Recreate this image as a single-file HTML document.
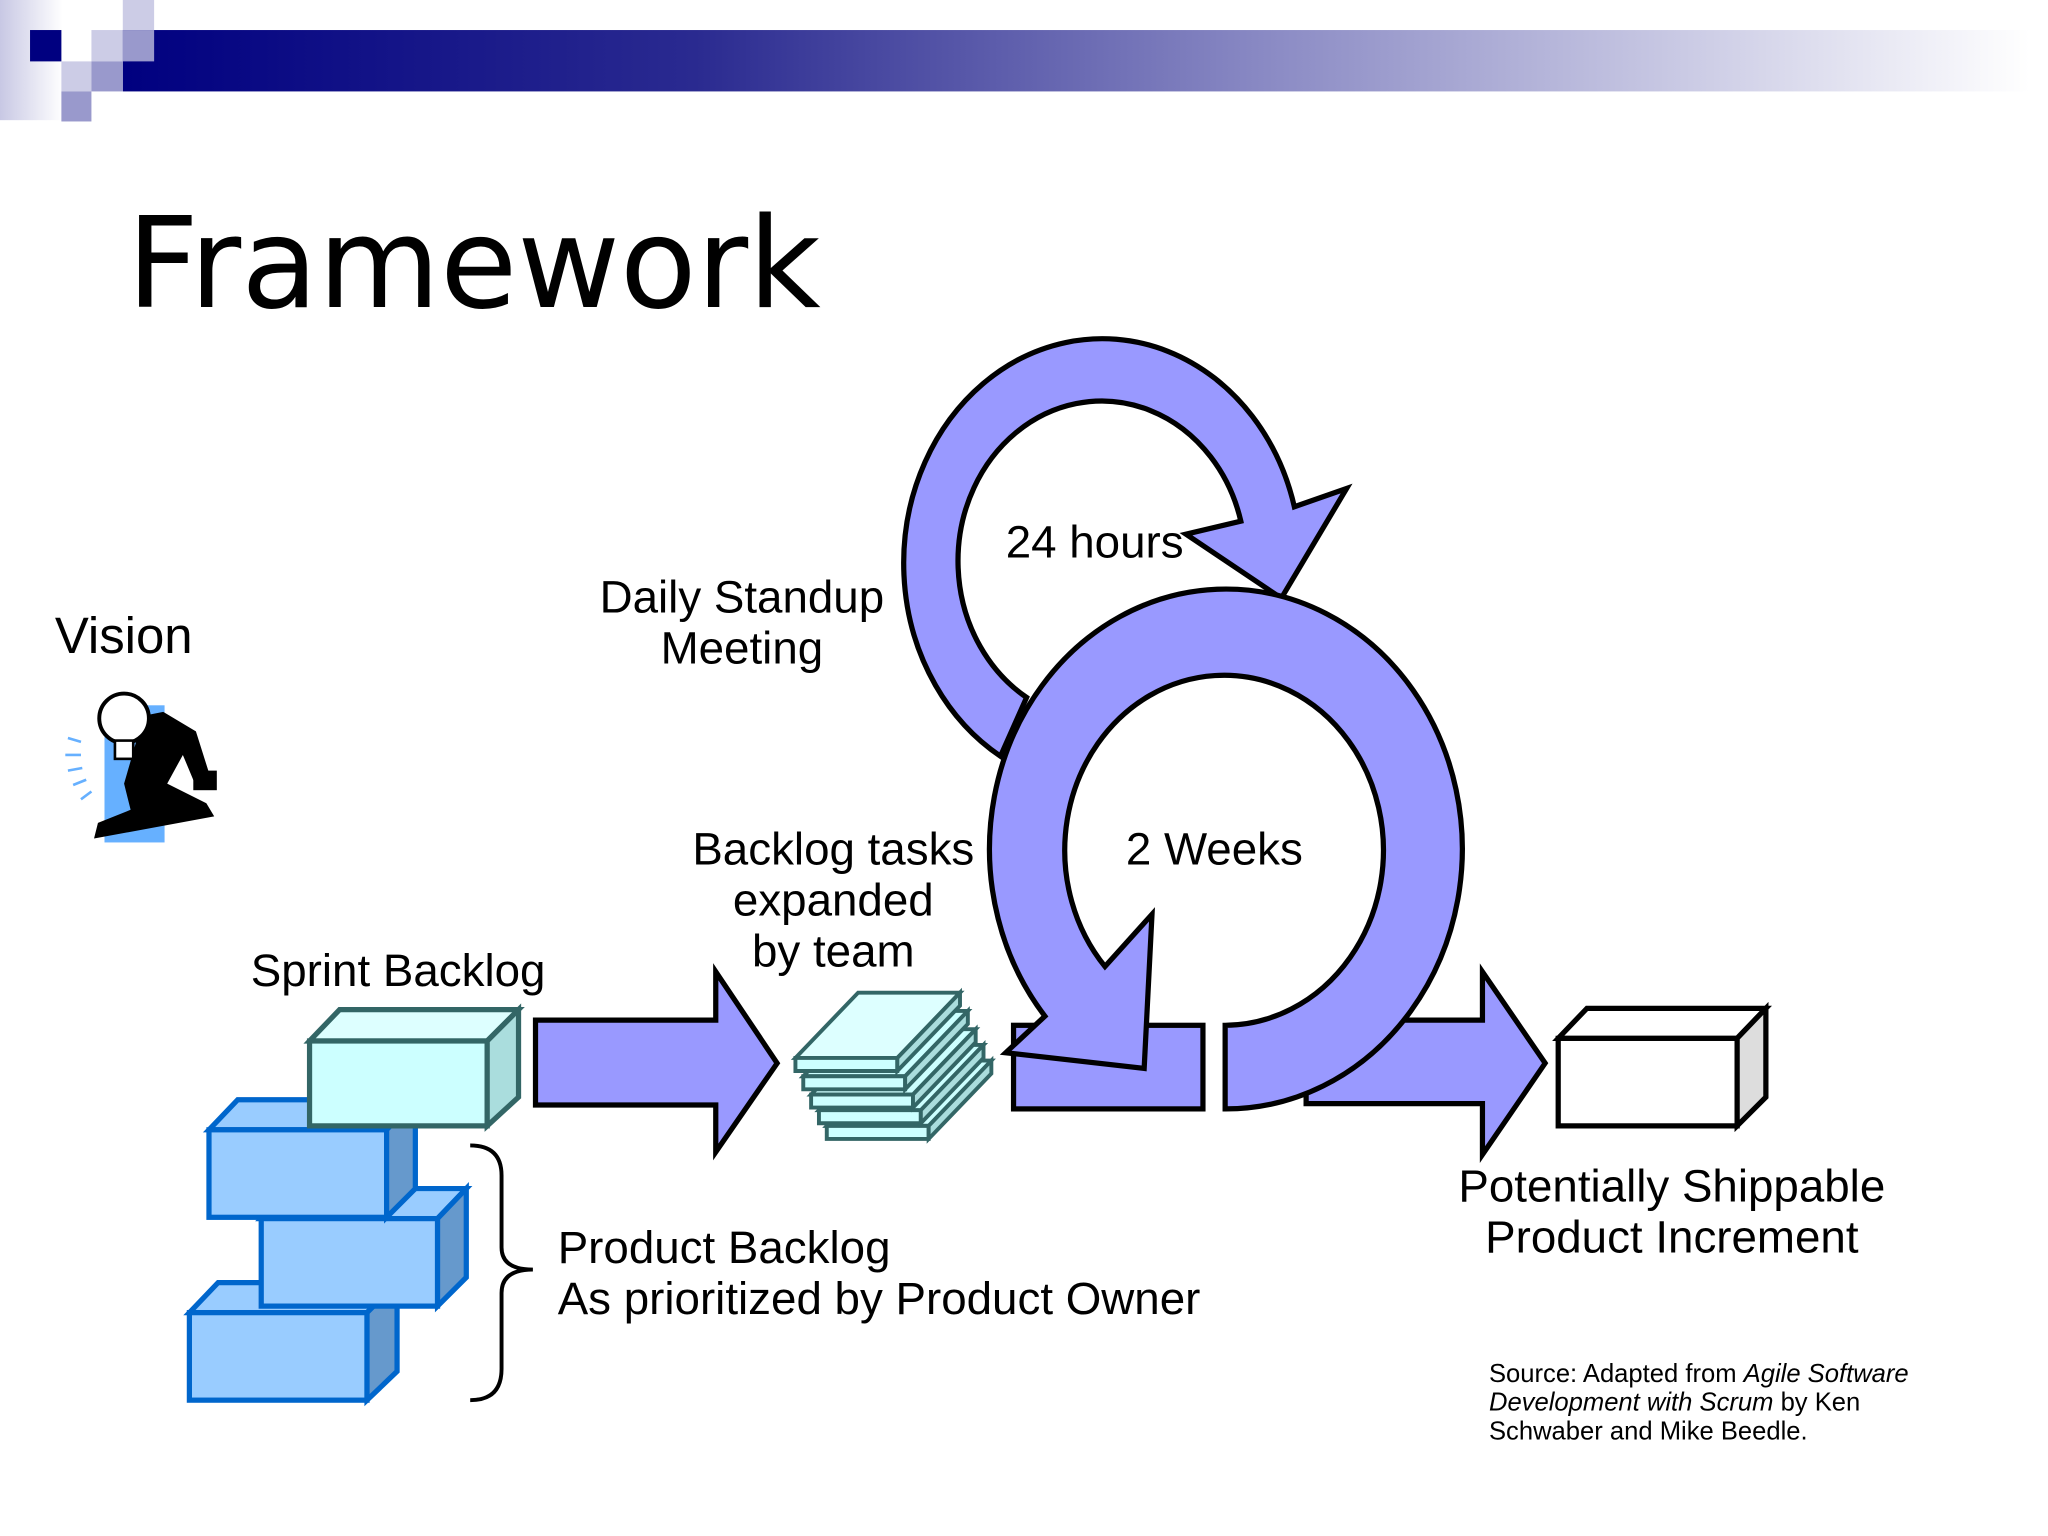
<!DOCTYPE html>
<html><head><meta charset="utf-8"><style>
html,body{margin:0;padding:0;background:#fff;}
svg{display:block;}
text{font-family:"Liberation Sans",Arial,sans-serif;fill:#000;}
</style></head><body>
<svg width="2048" height="1536" viewBox="0 0 1568 1176" preserveAspectRatio="none" xmlns="http://www.w3.org/2000/svg">
<defs>
<linearGradient id="bar" x1="0" x2="1" y1="0" y2="0">
<stop offset="0" stop-color="#000080"/>
<stop offset="0.3" stop-color="#2a2a90"/>
<stop offset="0.6" stop-color="#8a8ac4"/>
<stop offset="1" stop-color="#ffffff"/>
</linearGradient>
<linearGradient id="lstrip" x1="0" x2="1" y1="0" y2="0">
<stop offset="0" stop-color="#c8c8e4"/>
<stop offset="1" stop-color="#ffffff"/>
</linearGradient>
</defs>
<rect x="0" y="0" width="48" height="92" fill="url(#lstrip)"/>
<rect x="94" y="23" width="1460" height="47" fill="url(#bar)"/>
<rect x="23" y="23" width="24" height="24" fill="#000080"/>
<rect x="94" y="0" width="24" height="23" fill="#ccccE6"/>
<rect x="70" y="23" width="24" height="24" fill="#ccccE6"/>
<rect x="94" y="23" width="24" height="24" fill="#9999cc"/>
<rect x="47" y="47" width="23" height="23" fill="#ccccE6"/>
<rect x="70" y="47" width="24" height="23" fill="#9999cc"/>
<rect x="47" y="70" width="23" height="23" fill="#9999cc"/>

<text x="97" y="235" style="font-family:'DejaVu Sans',sans-serif;font-size:96px">Framework</text>

<text x="42" y="500" font-size="39">Vision</text>
<g>
<rect x="80" y="540" width="46" height="105" fill="#66b0ff"/>
<g stroke="#66b0ff" stroke-width="2">
<line x1="52" y1="565" x2="62" y2="568"/><line x1="50" y1="578" x2="62" y2="578"/>
<line x1="52" y1="590" x2="63" y2="588"/><line x1="56" y1="601" x2="66" y2="597"/>
<line x1="62" y1="612" x2="70" y2="606"/>
</g>
<path d="M110 548 L125 545 L150 560 L162 598 L150 602 L140 578 L128 600 L158 615 L164 625 L72 642 L75 630 L100 620 L95 600 Z" fill="#000"/>
<circle cx="95" cy="550" r="19" fill="#fff" stroke="#000" stroke-width="3"/>
<rect x="88" y="567" width="14" height="14" fill="#fff" stroke="#000" stroke-width="2"/>
<rect x="148" y="590" width="18" height="15" fill="#000"/>
</g>

<text x="568" y="469" font-size="35" text-anchor="middle">Daily Standup</text>
<text x="568" y="508" font-size="35" text-anchor="middle">Meeting</text>

<path d="M766,579 A152 172 0 1 1 991,388 L1031,374 L981,458 L908,409 L950,399 A110 122.5 0 1 0 786,534 Z" fill="#9999ff" stroke="#000" stroke-width="4"/>
<text x="770" y="427" font-size="35">24 hours</text>

<path d="M1000,781 L1135,781 L1135,744 L1183,814 L1135,884 L1135,845 L1000,845 Z" fill="#9999ff" stroke="#000" stroke-width="4"/>
<rect x="776" y="785" width="145" height="64" fill="#9999ff" stroke="#000" stroke-width="4"/>
<path d="M938,785 L938,849 A181 199 0 1 0 800,778 L770,806 L876,818 L882,700 L846,740 A122 134 0 1 1 938,785 Z" fill="#9999ff" stroke="#000" stroke-width="4"/>
<text x="862" y="662" font-size="35">2 Weeks</text>

<path d="M410,781 L548,781 L548,744 L595,814 L548,882 L548,846 L410,846 Z" fill="#9999ff" stroke="#000" stroke-width="4"/>

<text x="638" y="662" font-size="35" text-anchor="middle">Backlog tasks</text>
<text x="638" y="701" font-size="35" text-anchor="middle">expanded</text>
<text x="638" y="740" font-size="35" text-anchor="middle">by team</text>

<g stroke="#336666" stroke-width="3" fill="#ccffff">
<g transform="translate(24,52)"><path d="M609,810 L657,760 L735,760 L687,810 Z"/><path d="M609,810 L687,810 L687,820 L609,820 Z"/><path d="M687,810 L735,760 L735,770 L687,820 Z" fill="#aadddd"/></g>
<g transform="translate(18,40)"><path d="M609,810 L657,760 L735,760 L687,810 Z"/><path d="M609,810 L687,810 L687,820 L609,820 Z"/><path d="M687,810 L735,760 L735,770 L687,820 Z" fill="#aadddd"/></g>
<g transform="translate(12,28)"><path d="M609,810 L657,760 L735,760 L687,810 Z"/><path d="M609,810 L687,810 L687,820 L609,820 Z"/><path d="M687,810 L735,760 L735,770 L687,820 Z" fill="#aadddd"/></g>
<g transform="translate(6,14)"><path d="M609,810 L657,760 L735,760 L687,810 Z"/><path d="M609,810 L687,810 L687,820 L609,820 Z"/><path d="M687,810 L735,760 L735,770 L687,820 Z" fill="#aadddd"/></g>
<g><path d="M609,810 L657,760 L735,760 L687,810 Z" fill="#ddffff"/><path d="M609,810 L687,810 L687,820 L609,820 Z"/><path d="M687,810 L735,760 L735,770 L687,820 Z" fill="#aadddd"/></g>
</g>

<g stroke="#0066cc" stroke-width="4">
<g><path d="M145,1005 L167,982 L304,982 L281,1005 Z" fill="#99ccff"/><rect x="145" y="1005" width="136" height="67" fill="#99ccff"/><path d="M281,1005 L304,982 L304,1050 L281,1072 Z" fill="#6699cc"/></g>
<g><path d="M200,933 L222,910 L357,910 L335,933 Z" fill="#99ccff"/><rect x="200" y="933" width="135" height="67" fill="#99ccff"/><path d="M335,933 L357,910 L357,978 L335,1000 Z" fill="#6699cc"/></g>
<g><path d="M160,865 L182,842 L318,842 L296,865 Z" fill="#99ccff"/><rect x="160" y="865" width="136" height="67" fill="#99ccff"/><path d="M296,865 L318,842 L318,910 L296,932 Z" fill="#6699cc"/></g>
</g>
<g stroke="#336666" stroke-width="4">
<path d="M237,797 L260,773 L397,773 L373,797 Z" fill="#ddffff"/>
<rect x="237" y="797" width="136" height="65" fill="#ccffff"/>
<path d="M373,797 L397,773 L397,840 L373,862 Z" fill="#aadddd"/>
</g>
<text x="192" y="755" font-size="35">Sprint Backlog</text>

<path d="M360,877 Q384,877 384,900 L384,955 Q384,972 408,972 Q384,972 384,990 L384,1048 Q384,1072 360,1072" fill="none" stroke="#000" stroke-width="3"/>
<text x="427" y="967" font-size="35">Product Backlog</text>
<text x="427" y="1006" font-size="35">As prioritized by Product Owner</text>

<g stroke="#000" stroke-width="4">
<path d="M1193,795 L1215,772 L1352,772 L1330,795 Z" fill="#fff"/>
<rect x="1193" y="795" width="137" height="67" fill="#fff"/>
<path d="M1330,795 L1352,772 L1352,840 L1330,862 Z" fill="#dddddd"/>
</g>
<text x="1280" y="920" font-size="35" text-anchor="middle">Potentially Shippable</text>
<text x="1280" y="959" font-size="35" text-anchor="middle">Product Increment</text>

<text x="1140" y="1058" font-size="19.6">Source: Adapted from <tspan font-style="italic">Agile Software</tspan></text>
<text x="1140" y="1080" font-size="19.6"><tspan font-style="italic">Development with Scrum</tspan> by Ken</text>
<text x="1140" y="1102" font-size="19.6">Schwaber and Mike Beedle.</text>
</svg>
</body></html>
